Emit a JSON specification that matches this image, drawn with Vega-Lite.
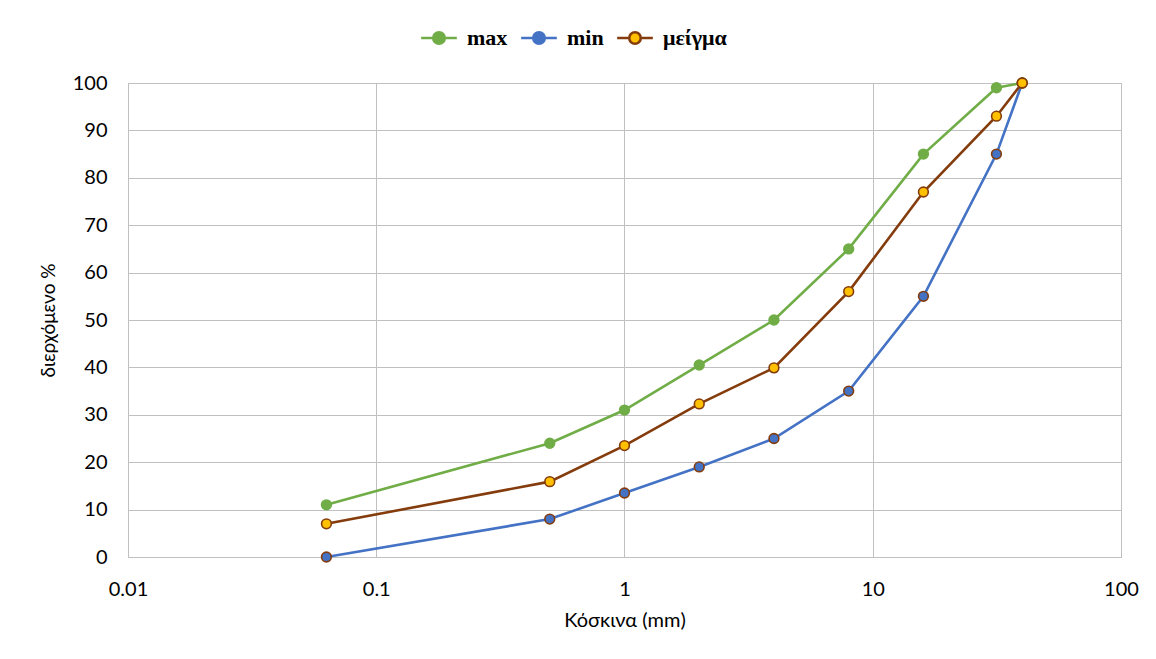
{
  "$schema": "https://vega.github.io/schema/vega-lite/v6.json",
  "width": 993,
  "height": 474,
  "autosize": {"type": "none"},
  "padding": {"left": 128, "top": 83, "right": 35, "bottom": 102},
  "background": "white",
  "config": {
    "view": {"stroke": "#c0c0c0", "strokeWidth": 1},
    "axis": {"labelFont": "Lato", "titleFont": "Lato", "labelColor": "#000", "titleColor": "#000", "gridColor": "#c0c0c0", "domain": false, "ticks": false, "titleFontWeight": "normal"}
  },
  "data": {
    "values": [
      {"size": 0.063, "pct": 11, "series": "max"},
      {"size": 0.5, "pct": 24, "series": "max"},
      {"size": 1, "pct": 31, "series": "max"},
      {"size": 2, "pct": 40.5, "series": "max"},
      {"size": 4, "pct": 50, "series": "max"},
      {"size": 8, "pct": 65, "series": "max"},
      {"size": 16, "pct": 85, "series": "max"},
      {"size": 31.5, "pct": 99, "series": "max"},
      {"size": 40, "pct": 100, "series": "max"},
      {"size": 0.063, "pct": 0, "series": "min"},
      {"size": 0.5, "pct": 8, "series": "min"},
      {"size": 1, "pct": 13.5, "series": "min"},
      {"size": 2, "pct": 19, "series": "min"},
      {"size": 4, "pct": 25, "series": "min"},
      {"size": 8, "pct": 35, "series": "min"},
      {"size": 16, "pct": 55, "series": "min"},
      {"size": 31.5, "pct": 85, "series": "min"},
      {"size": 40, "pct": 100, "series": "min"},
      {"size": 0.063, "pct": 7, "series": "μείγμα"},
      {"size": 0.5, "pct": 15.9, "series": "μείγμα"},
      {"size": 1, "pct": 23.5, "series": "μείγμα"},
      {"size": 2, "pct": 32.3, "series": "μείγμα"},
      {"size": 4, "pct": 39.9, "series": "μείγμα"},
      {"size": 8, "pct": 56, "series": "μείγμα"},
      {"size": 16, "pct": 77, "series": "μείγμα"},
      {"size": 31.5, "pct": 93, "series": "μείγμα"},
      {"size": 40, "pct": 100, "series": "μείγμα"}
    ]
  },
  "encoding": {
    "x": {
      "field": "size", "type": "quantitative",
      "scale": {"type": "log", "domain": [0.01, 100], "nice": false},
      "axis": {"values": [0.01, 0.1, 1, 10, 100], "format": "~g", "title": "Κόσκινα (mm)", "labelFontSize": 20, "titleFontSize": 20, "labelPadding": 22, "titlePadding": 11, "labelFlush": false}
    },
    "y": {
      "field": "pct", "type": "quantitative",
      "scale": {"domain": [0, 100], "nice": false},
      "axis": {"values": [0, 10, 20, 30, 40, 50, 60, 70, 80, 90, 100], "title": "διερχόμενο %", "labelFontSize": 20, "titleFontSize": 19, "labelPadding": 21, "titlePadding": 14}
    }
  },
  "layer": [
    {
      "mark": {"type": "line", "strokeWidth": 2.6},
      "encoding": {
        "stroke": {
          "field": "series", "type": "nominal",
          "scale": {"domain": ["max", "min", "μείγμα"], "range": ["#70AD47", "#4472C4", "#843C0C"]},
          "legend": {
            "orient": "none", "legendX": 300, "legendY": -56, "direction": "horizontal", "title": null, "padding": 0,
            "labelFont": "Liberation Serif", "labelFontWeight": "bold", "labelFontSize": 22, "labelColor": "#000",
            "symbolType": "M-3.4,0H-1.1 M1.1,0H3.4 M-1.1,0A1.1,1.1 0 1,1 1.1,0A1.1,1.1 0 1,1 -1.1,0",
            "symbolSize": 110, "symbolStrokeWidth": 2.6, "columnPadding": 7, "labelOffset": 17,
            "encode": {"symbols": {"update": {"fill": {"scale": "fill", "field": "value"}, "fillOpacity": {"value": 1}}}}
          }
        }
      }
    },
    {
      "mark": {"type": "point", "filled": true, "size": 95, "strokeWidth": 1.6, "opacity": 1},
      "encoding": {
        "fill": {
          "field": "series", "type": "nominal",
          "scale": {"domain": ["max", "min", "μείγμα"], "range": ["#70AD47", "#4472C4", "#FFC000"]},
          "legend": null
        },
        "stroke": {
          "field": "series", "type": "nominal",
          "scale": {"domain": ["max", "min", "μείγμα"], "range": ["#70AD47", "#843C0C", "#843C0C"]},
          "legend": null
        }
      }
    }
  ],
  "resolve": {"scale": {"stroke": "independent"}}
}
